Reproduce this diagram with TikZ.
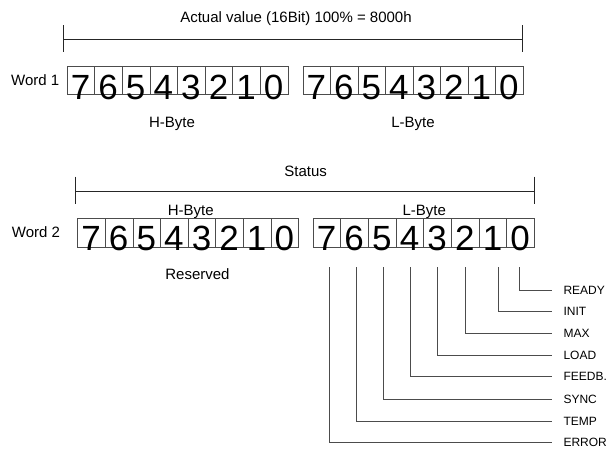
\documentclass[tikz,border=0pt]{standalone}
\usepackage{fontspec}
\setmainfont{Liberation Sans}
\begin{document}
\begin{tikzpicture}[x=1pt,y=-1pt,
  bitbox/.style={draw=black!70,line width=0.8pt,minimum width=27.6pt,minimum height=28.4pt,inner sep=0pt,anchor=north west},
  digit/.style={inner sep=0pt,anchor=base,font=\fontsize{35}{35}\selectfont},
  lbl/.style={inner sep=0pt,anchor=base,font=\fontsize{15}{15}\selectfont},
  dimline/.style={draw=black!85,line width=0.8pt},
  leader/.style={draw=black!70,line width=0.8pt},
  flag/.style={anchor=west,inner sep=0pt,inner xsep=0pt,font=\fontsize{12}{12}\selectfont}]
\useasboundingbox (0,0) rectangle (608,448);
% ---------- Word 1 ----------
\node[lbl] (t1) at (296,22.7) {Actual value (16Bit) 100\% = 8000h};
\coordinate (d1a) at (63.3,39);
\coordinate (d1b) at (522.7,39);
\coordinate (d1at) at (63.3,25);
\coordinate (d1ab) at (63.3,52.3);
\coordinate (d1bt) at (522.7,25);
\coordinate (d1bb) at (522.7,52.3);
\draw[dimline] (d1a) -- (d1b);
\draw[dimline] (d1at) -- (d1ab);
\draw[dimline] (d1bt) -- (d1bb);
\node[lbl,anchor=base west] (w1) at (11,85) {Word 1};
\foreach \i in {0,...,7}{
  \pgfmathtruncatemacro{\b}{7-\i}
  \node[bitbox] (w1h\b) at ({66.7+27.6*\i},66) {};
  \node[digit] (w1hd\b) at ({66.7+27.6*\i+13.8},99) {\b};
  \node[bitbox] (w1l\b) at ({302.7+27.5*\i},66) {};
  \node[digit] (w1ld\b) at ({302.7+27.5*\i+13.75},99) {\b};
}
\node[lbl] (w1H) at (172,127.7) {H-Byte};
\node[lbl] (w1L) at (413,127.7) {L-Byte};
% ---------- Word 2 ----------
\node[lbl] (t2) at (305.7,176) {Status};
\coordinate (d2a) at (75,191.7);
\coordinate (d2b) at (534,191.7);
\coordinate (d2at) at (75,176.7);
\coordinate (d2ab) at (75,204.3);
\coordinate (d2bt) at (534,176.7);
\coordinate (d2bb) at (534,204.3);
\draw[dimline] (d2a) -- (d2b);
\draw[dimline] (d2at) -- (d2ab);
\draw[dimline] (d2bt) -- (d2bb);
\node[lbl] (w2H) at (190.8,215) {H-Byte};
\node[lbl] (w2L) at (424.2,215) {L-Byte};
\node[lbl,anchor=base west] (w2) at (11.7,237.3) {Word 2};
\foreach \i in {0,...,7}{
  \pgfmathtruncatemacro{\b}{7-\i}
  \node[bitbox] (w2h\b) at ({77.3+27.6*\i},218.3) {};
  \node[digit] (w2hd\b) at ({77.3+27.6*\i+13.8},250) {\b};
  \node[bitbox] (w2l\b) at ({312.7+27.66*\i},218.3) {};
  \node[digit] (w2ld\b) at ({312.7+27.66*\i+13.83},250) {\b};
}
\node[lbl] (res) at (197.5,279.3) {Reserved};
% ---------- leaders ----------
\foreach \b/\x/\y/\t in {0/519.3/290/READY,1/498.7/311.3/INIT,2/465.5/333/MAX,3/437.7/355/LOAD,4/410.7/376.7/FEEDB.,5/383.3/399/SYNC,6/356/421/TEMP,7/329.3/442.3/ERROR}{
  \coordinate (ls\b) at (\x,267.3);
  \coordinate (le\b) at (551.7,\y);
  \node[flag] (f\b) at (563.3,\y) {\t};
  \draw[leader] (ls\b) |- (le\b);
}
\end{tikzpicture}
\end{document}
